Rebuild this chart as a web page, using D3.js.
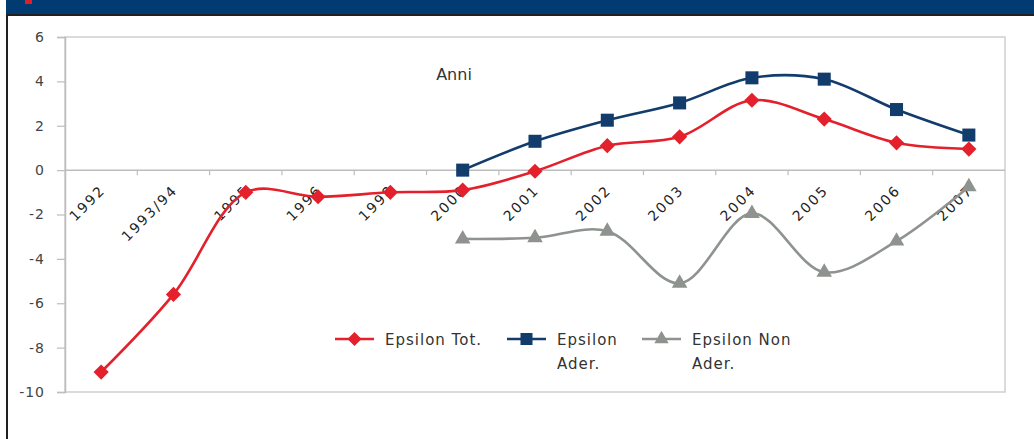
<!DOCTYPE html>
<html>
<head>
<meta charset="utf-8">
<script src="https://cdn.jsdelivr.net/npm/d3@7"></script>
<style>
  html, body { margin: 0; padding: 0; background: #fff; }
  svg { display: block; }
</style>
</head>
<body>
<svg id="chart" width="1034" height="439"></svg>
<script>
// Categories (years) and series values
const years = ["1992", "1993/94", "1995", "1996", "1998", "2000", "2001", "2002", "2003", "2004", "2005", "2006", "2007"];
const epsilonTot = [-9.1, -5.6, -1.0, -1.2, -1.0, -0.9, -0.05, 1.1, 1.5, 3.15, 2.3, 1.23, 0.95];
const epsilonAder = [null, null, null, null, null, 0.0, 1.3, 2.25, 3.03, 4.16, 4.1, 2.73, 1.58];
const epsilonNonAder = [null, null, null, null, null, -3.1, -3.05, -2.75, -5.1, -1.95, -4.6, -3.2, -0.75];
const yTicks = [6, 4, 2, 0, -2, -4, -6, -8, -10];
const axisTitle = "Anni";
const legendLabels = [["Epsilon Tot."], ["Epsilon", "Ader."], ["Epsilon Non", "Ader."]];

const FONT = "DejaVu Sans, Verdana, sans-serif";
const svg = d3.select("#chart");
const W = 1034, H = 439;
const plot = { left: 65, right: 1005, top: 37, bottom: 392 };

// Header band
svg.append("rect").attr("x", 6).attr("y", 0).attr("width", W - 6).attr("height", 14).attr("fill", "#003b71");
svg.append("rect").attr("x", 6).attr("y", 14).attr("width", W - 6).attr("height", 2).attr("fill", "#231f20");
svg.append("rect").attr("x", 25).attr("y", 0).attr("width", 7).attr("height", 4).attr("fill", "#e41e26");
// Left frame rule
svg.append("rect").attr("x", 6).attr("y", 14).attr("width", 2).attr("height", H - 14).attr("fill", "#231f20");

const x = d3.scaleBand().domain(years).range([plot.left, plot.right]);
const y = d3.scaleLinear().domain([-10, 6]).range([plot.bottom, plot.top]);
const cx = d => x(d) + x.bandwidth() / 2;

// Plot frame
svg.append("rect")
  .attr("x", plot.left).attr("y", plot.top)
  .attr("width", plot.right - plot.left).attr("height", plot.bottom - plot.top)
  .attr("fill", "none").attr("stroke", "#cfcfcf").attr("stroke-width", 1.5);

// Y axis
const yAxis = svg.append("g")
  .attr("transform", `translate(${plot.left},0)`)
  .call(d3.axisLeft(y).tickValues(yTicks).tickSize(8).tickPadding(12).tickFormat(d3.format("d")));
yAxis.select(".domain").attr("stroke", "#bdbdbd").attr("stroke-width", 1.5);
yAxis.selectAll(".tick line").attr("stroke", "#bdbdbd").attr("stroke-width", 1.2);
yAxis.selectAll(".tick text")
  .attr("fill", "#444").attr("font-family", FONT).attr("font-size", 14)
  .attr("letter-spacing", 1)
  .text(d => d < 0 ? "-" + Math.abs(d) : d);

// X axis along zero
const xAxis = svg.append("g").attr("transform", `translate(0,${y(0)})`);
xAxis.append("line")
  .attr("x1", plot.left).attr("x2", plot.right)
  .attr("stroke", "#bdbdbd").attr("stroke-width", 1.5);
xAxis.selectAll("line.tk")
  .data(years.slice(1))
  .join("line").attr("class", "tk")
  .attr("x1", d => x(d)).attr("x2", d => x(d))
  .attr("y1", 0).attr("y2", 5)
  .attr("stroke", "#bdbdbd").attr("stroke-width", 1.2);
xAxis.selectAll("text")
  .data(years)
  .join("text")
  .attr("transform", d => `translate(${cx(d) + 5},${21}) rotate(-45)`)
  .attr("text-anchor", "end")
  .attr("font-family", FONT).attr("font-size", 14)
  .attr("letter-spacing", 2)
  .attr("fill", "#222")
  .text(d => d);

// Axis title
svg.append("text")
  .attr("x", 454).attr("y", 80)
  .attr("text-anchor", "middle")
  .attr("font-family", FONT).attr("font-size", 16)
  .attr("fill", "#333")
  .text(axisTitle);

const diamond = { draw(ctx, size) { const r = Math.sqrt(size) / 1.5; ctx.moveTo(0, -r); ctx.lineTo(r, 0); ctx.lineTo(0, r); ctx.lineTo(-r, 0); ctx.closePath(); } };

const series = [
  { values: epsilonTot, color: "#e3202b", marker: diamond, size: 130 },
  { values: epsilonAder, color: "#123c6b", marker: d3.symbolSquare, size: 170 },
  { values: epsilonNonAder, color: "#8e938f", marker: d3.symbolTriangle, size: 105 }
];

const line = d3.line()
  .x(d => cx(d.k)).y(d => y(d.v))
  .curve(d3.curveCatmullRom.alpha(0.5));

// Draw series back-to-front: gray, red, blue
[series[2], series[0], series[1]].forEach(s => {
  const pts = years.map((k, i) => ({ k, v: s.values[i] })).filter(p => p.v != null);
  svg.append("path")
    .datum(pts)
    .attr("d", line)
    .attr("fill", "none").attr("stroke", s.color).attr("stroke-width", 2.6);
  svg.append("g").selectAll("path")
    .data(pts)
    .join("path")
    .attr("transform", p => `translate(${cx(p.k)},${y(p.v)})`)
    .attr("d", d3.symbol(s.marker, s.size))
    .attr("fill", s.color);
});

// Legend
const legendX = [335, 507, 642];
const legendY = 339;
series.forEach((s, i) => {
  const g = svg.append("g").attr("transform", `translate(${legendX[i]},${legendY})`);
  g.append("line").attr("x1", 0).attr("x2", 39).attr("stroke", s.color).attr("stroke-width", 2.6);
  g.append("path").attr("transform", "translate(19.5,0)")
    .attr("d", d3.symbol(s.marker, s.size * 0.85)).attr("fill", s.color);
  legendLabels[i].forEach((t, j) => {
    g.append("text")
      .attr("x", 50).attr("y", 6 + j * 24)
      .attr("font-family", FONT).attr("font-size", 15)
      .attr("letter-spacing", 1)
      .attr("fill", "#333")
      .text(t);
  });
});
</script>
</body>
</html>
